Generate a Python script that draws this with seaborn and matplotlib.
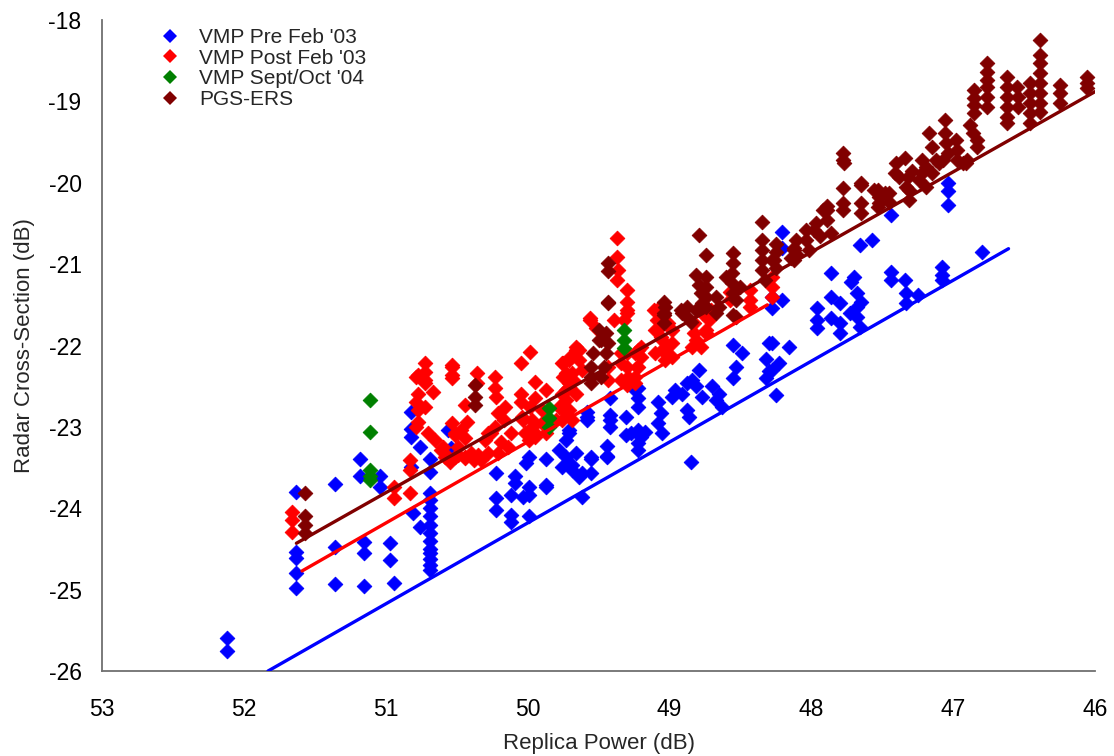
import numpy as np
import pandas as pd
import matplotlib
matplotlib.use("Agg")
import matplotlib.pyplot as plt
from matplotlib.lines import Line2D
import seaborn as sns

# series names and colours
SERIES = ["VMP Pre Feb '03", "VMP Post Feb '03", "VMP Sept/Oct '04", "PGS-ERS"]
COLORS = ["#0000ff", "#ff0000", "#008000", "#800000"]

# each entry: (replica power, [radar cross-section values])
pre_cols = [
    (52.12, [-25.60, -25.75]),
    (51.63, [-23.80, -24.54, -24.61, -24.80, -24.98]),
    (51.36, [-23.70, -24.48, -24.93]),
    (51.18, [-23.40, -23.60]),
    (51.15, [-24.42, -24.55, -24.96]),
    (51.04, [-23.60, -23.74]),
    (50.97, [-24.43, -24.64]),
    (50.94, [-24.92]),
    (50.82, [-22.82, -23.02, -23.12, -23.49]),
    (50.81, [-24.06]),
    (50.76, [-23.25, -24.23]),
    (50.69, [-23.40, -23.55, -23.81, -23.90, -24.00, -24.10, -24.20, -24.30,
             -24.40, -24.50, -24.55, -24.62, -24.70, -24.76]),
    (50.56, [-23.04]),
    (50.54, [-23.26]),
    (50.22, [-23.57, -23.87, -24.02]),
    (50.12, [-23.84, -24.08, -24.17]),
    (50.09, [-23.60, -23.69]),
    (50.03, [-23.86]),
    (49.99, [-23.74, -23.84, -24.10, -23.37]),
    (50.01, [-23.44]),
    (49.87, [-23.40, -23.71, -23.74]),
    (49.78, [-23.28]),
    (49.76, [-23.49]),
    (49.73, [-23.16, -23.37]),
    (49.71, [-23.04, -23.08]),
    (49.69, [-23.47, -23.53]),
    (49.66, [-23.32]),
    (49.64, [-23.62]),
    (49.62, [-23.57, -23.86]),
    (49.58, [-22.82, -22.88, -22.92]),
    (49.55, [-23.37, -23.40, -23.57]),
    (49.44, [-23.24, -23.36, -23.37]),
    (49.42, [-22.65, -22.85, -22.92, -23.00]),
    (49.31, [-22.88, -23.10]),
    (49.27, [-23.08]),
    (49.24, [-22.55]),
    (49.22, [-22.52, -22.65, -22.75, -23.04, -23.20, -23.28]),
    (49.20, [-23.12]),
    (49.17, [-23.06]),
    (49.08, [-22.70, -22.95]),
    (49.06, [-22.83]),
    (49.05, [-23.08]),
    (48.98, [-22.63]),
    (48.96, [-22.55]),
    (48.91, [-22.59]),
    (48.88, [-22.46, -22.79]),
    (48.86, [-22.88]),
    (48.85, [-23.43]),
    (48.84, [-22.42]),
    (48.81, [-22.50]),
    (48.79, [-22.30]),
    (48.77, [-22.63]),
    (48.70, [-22.50]),
    (48.67, [-22.67]),
    (48.65, [-22.59]),
    (48.63, [-22.76]),
    (48.55, [-21.99, -22.40]),
    (48.53, [-22.26]),
    (48.49, [-22.09]),
    (48.32, [-22.17, -22.40]),
    (48.30, [-21.97, -22.31]),
    (48.28, [-21.40, -21.54, -21.97, -22.30]),
    (48.25, [-22.61]),
    (48.23, [-22.22]),
    (48.21, [-20.60, -20.80, -21.44]),
    (48.16, [-22.02]),
    (47.96, [-21.54, -21.69, -21.79]),
    (47.86, [-21.11, -21.40, -21.66]),
    (47.80, [-21.48, -21.72, -21.85]),
    (47.73, [-21.60]),
    (47.72, [-21.22]),
    (47.70, [-21.16]),
    (47.68, [-21.36, -21.53, -21.65]),
    (47.66, [-20.77, -21.77]),
    (47.65, [-21.47]),
    (47.57, [-20.70]),
    (47.44, [-20.40, -21.10, -21.20]),
    (47.34, [-21.20]),
    (47.33, [-21.36, -21.48]),
    (47.25, [-21.38]),
    (47.08, [-21.03, -21.13, -21.20]),
    (47.04, [-20.00, -20.10, -20.27]),
    (46.80, [-20.85]),
]

post_cols = [
    (51.66, [-24.05, -24.14, -24.29]),
    (50.94, [-23.74, -23.87]),
    (50.83, [-23.41, -23.53, -23.81]),
    (50.79, [-22.39, -22.69, -23.00]),
    (50.77, [-22.36, -22.60, -22.79, -22.94]),
    (50.72, [-22.22, -22.33, -22.42, -22.46, -22.75]),
    (50.70, [-23.08]),
    (50.67, [-22.57]),
    (50.65, [-23.16]),
    (50.61, [-23.28]),
    (50.60, [-23.25]),
    (50.58, [-23.37]),
    (50.56, [-23.37]),
    (50.55, [-23.43]),
    (50.53, [-22.24, -22.26, -22.36, -22.40, -22.95]),
    (50.51, [-23.08, -23.10, -23.37]),
    (50.49, [-23.25, -23.35]),
    (50.47, [-23.04]),
    (50.44, [-22.73, -23.14, -23.37, -23.38]),
    (50.43, [-22.94]),
    (50.40, [-23.32]),
    (50.38, [-23.41]),
    (50.36, [-22.34, -22.46]),
    (50.35, [-23.35]),
    (50.33, [-23.41]),
    (50.30, [-23.16]),
    (50.28, [-23.08, -23.32]),
    (50.26, [-23.08]),
    (50.23, [-22.39, -22.52, -23.00]),
    (50.22, [-22.63]),
    (50.21, [-22.83, -23.32]),
    (50.19, [-23.18]),
    (50.17, [-22.91]),
    (50.16, [-22.75]),
    (50.14, [-23.25]),
    (50.12, [-23.08]),
    (50.05, [-22.22, -22.59, -22.70]),
    (50.04, [-22.88]),
    (50.03, [-22.91]),
    (50.02, [-23.08]),
    (49.99, [-23.16]),
    (49.98, [-22.08, -22.75]),
    (49.97, [-22.92, -23.00]),
    (49.95, [-22.45, -22.65, -23.08, -23.12]),
    (49.90, [-22.79, -22.95]),
    (49.87, [-22.55, -23.08]),
    (49.80, [-22.91]),
    (49.78, [-22.75]),
    (49.76, [-22.22, -22.59, -22.91]),
    (49.75, [-22.22, -22.39]),
    (49.73, [-22.34, -22.55, -22.67, -22.83]),
    (49.71, [-22.18, -22.46, -22.51, -22.79]),
    (49.70, [-22.14]),
    (49.69, [-22.34, -22.92]),
    (49.68, [-22.42]),
    (49.66, [-22.02, -22.06, -22.59]),
    (49.64, [-22.06, -22.18]),
    (49.62, [-22.30]),
    (49.56, [-21.66, -21.69]),
    (49.52, [-21.79]),
    (49.43, [-22.26, -22.42]),
    (49.39, [-21.69]),
    (49.37, [-20.68, -20.91, -21.20]),
    (49.36, [-21.07]),
    (49.34, [-22.09, -22.22, -22.42]),
    (49.32, [-21.69]),
    (49.30, [-21.32, -21.47, -21.56, -21.60, -22.09, -22.26, -22.48]),
    (49.29, [-22.39]),
    (49.24, [-22.09, -22.39, -22.46]),
    (49.23, [-22.26]),
    (49.22, [-22.06, -22.26]),
    (49.20, [-22.02, -22.14]),
    (49.11, [-21.56]),
    (49.10, [-21.81, -22.09]),
    (49.09, [-21.56, -21.69, -21.81]),
    (49.06, [-21.90]),
    (49.05, [-21.69, -21.93, -22.06]),
    (49.03, [-22.06, -22.18]),
    (49.01, [-21.72]),
    (48.98, [-21.81, -21.97, -22.14]),
    (48.84, [-22.02]),
    (48.83, [-21.72, -21.85]),
    (48.81, [-21.93]),
    (48.78, [-22.02]),
    (48.77, [-21.60]),
    (48.74, [-21.81, -21.85]),
    (48.72, [-21.69]),
    (48.71, [-21.56]),
    (48.57, [-21.34, -21.44]),
    (48.43, [-21.32, -21.44, -21.53]),
    (48.28, [-21.16, -21.28, -21.40]),
]

sept_cols = [
    (51.11, [-22.67, -23.06, -23.53, -23.60, -23.65]),
    (49.85, [-22.77, -22.89, -23.00]),
    (49.32, [-21.81, -21.93, -22.03]),
]

ers_cols = [
    (51.57, [-23.81, -24.10, -24.20, -24.30]),
    (50.37, [-22.49, -22.63, -22.73]),
    (49.55, [-22.26, -22.39, -22.46]),
    (49.54, [-22.09]),
    (49.50, [-21.81, -21.93]),
    (49.48, [-21.93, -22.39]),
    (49.46, [-22.26]),
    (49.45, [-21.85, -22.09]),
    (49.43, [-20.99, -21.09, -21.47, -21.48, -21.97]),
    (49.04, [-21.47, -21.60, -21.63, -21.72]),
    (49.03, [-21.53]),
    (48.92, [-21.56]),
    (48.91, [-21.60]),
    (48.88, [-21.53, -21.65]),
    (48.85, [-21.71]),
    (48.81, [-21.13, -21.56]),
    (48.79, [-20.64, -21.26]),
    (48.78, [-21.36]),
    (48.77, [-21.48]),
    (48.74, [-20.89, -21.16, -21.28, -21.40, -21.53]),
    (48.67, [-21.40, -21.60]),
    (48.65, [-21.53]),
    (48.60, [-21.16]),
    (48.56, [-21.11, -21.23]),
    (48.55, [-20.86, -20.99, -21.36, -21.63]),
    (48.53, [-21.44, -21.65]),
    (48.50, [-21.28]),
    (48.35, [-20.48, -20.70, -20.83, -20.95, -21.07]),
    (48.33, [-21.20]),
    (48.28, [-20.95]),
    (48.26, [-20.95]),
    (48.25, [-20.75, -20.85, -21.05]),
    (48.14, [-20.93]),
    (48.12, [-20.80, -20.83, -20.95]),
    (48.11, [-20.70, -20.87]),
    (48.04, [-20.58, -20.70]),
    (48.02, [-20.83]),
    (47.98, [-20.58]),
    (47.97, [-20.50]),
    (47.94, [-20.66]),
    (47.92, [-20.33]),
    (47.89, [-20.29, -20.33, -20.46]),
    (47.86, [-20.62]),
    (47.78, [-19.63, -19.72, -20.06, -20.25, -20.33]),
    (47.77, [-19.76]),
    (47.65, [-20.00, -20.03, -20.25, -20.37]),
    (47.56, [-20.09]),
    (47.53, [-20.09, -20.30]),
    (47.52, [-20.18, -20.25]),
    (47.48, [-20.13]),
    (47.45, [-20.13, -20.24]),
    (47.41, [-19.88]),
    (47.40, [-19.76]),
    (47.38, [-19.93]),
    (47.34, [-19.70]),
    (47.33, [-20.05]),
    (47.32, [-19.93]),
    (47.31, [-20.09, -20.21]),
    (47.29, [-19.85]),
    (47.24, [-19.97]),
    (47.22, [-19.72, -19.88]),
    (47.19, [-19.80, -20.05]),
    (47.17, [-19.39]),
    (47.15, [-19.56, -19.88]),
    (47.12, [-19.72]),
    (47.10, [-19.76]),
    (47.07, [-19.72]),
    (47.06, [-19.23, -19.39]),
    (47.05, [-19.51]),
    (47.04, [-19.63]),
    (46.98, [-19.47]),
    (46.97, [-19.60, -19.72]),
    (46.93, [-19.76]),
    (46.91, [-19.76]),
    (46.90, [-19.72]),
    (46.88, [-19.29]),
    (46.86, [-19.39]),
    (46.85, [-18.86, -18.96, -19.05, -19.14]),
    (46.83, [-19.47, -19.56]),
    (46.76, [-18.53, -18.64, -18.74, -18.82, -18.94, -19.07]),
    (46.62, [-18.70, -18.82, -18.94, -19.07, -19.19, -19.27]),
    (46.55, [-18.82]),
    (46.54, [-18.94, -19.07]),
    (46.46, [-18.77, -18.90, -19.02, -19.14, -19.27]),
    (46.39, [-18.25, -18.43, -18.53, -18.65, -18.77, -18.90, -19.02, -19.13]),
    (46.25, [-18.80, -18.90, -19.02]),
    (46.06, [-18.70, -18.77, -18.84]),
]

# linear trend lines (end points)
pre_fit_x = [51.83, 46.61]
pre_fit_y = [-26.00, -20.81]
post_fit_x = [51.59, 48.31]
post_fit_y = [-24.77, -21.50]
ers_fit_x = [51.63, 46.00]
ers_fit_y = [-24.43, -18.88]

x_ticks = [53, 52, 51, 50, 49, 48, 47, 46]
y_ticks = [-26, -25, -24, -23, -22, -21, -20, -19, -18]


def expand(cols, name):
    rows = []
    for xv, ys in cols:
        for yv in ys:
            rows.append({"power": xv, "rcs": yv, "series": name})
    return rows


rows = (expand(pre_cols, SERIES[0]) + expand(post_cols, SERIES[1])
        + expand(sept_cols, SERIES[2]) + expand(ers_cols, SERIES[3]))
df = pd.DataFrame(rows)

sns.set_style("white")
plt.rcParams["font.family"] = ["Liberation Sans", "DejaVu Sans"]

fig, ax = plt.subplots(figsize=(11.14, 7.56), dpi=100)
fig.subplots_adjust(left=0.0916, right=0.983, top=0.9735, bottom=0.1124)

palette = dict(zip(SERIES, COLORS))
# excel draws the series one after another
for name in SERIES:
    sns.scatterplot(data=df[df["series"] == name], x="power", y="rcs",
                    color=palette[name], edgecolor=palette[name], marker="D",
                    s=56, linewidth=0.6, ax=ax, legend=False, zorder=2)

fits = [(pre_fit_x, pre_fit_y, COLORS[0]), (post_fit_x, post_fit_y, COLORS[1]),
        (ers_fit_x, ers_fit_y, COLORS[3])]
for fx, fy, c in fits:
    sns.lineplot(x=fx, y=fy, color=c, linewidth=2.4, ax=ax, zorder=3)

ax.set_xlim(53, 46)
ax.set_ylim(-26, -18)
ax.set_xticks(x_ticks)
ax.set_yticks(y_ticks)
ax.set_xticklabels([str(t) for t in x_ticks])
ax.set_yticklabels([str(t) for t in y_ticks])

for side in ["top", "right"]:
    ax.spines[side].set_visible(False)
for side in ["left", "bottom"]:
    ax.spines[side].set_color("#707070")
    ax.spines[side].set_linewidth(1.3)
ax.tick_params(direction="inout", length=11.5, width=1.2, color="#707070",
               labelsize=16.5, labelcolor="black")
ax.tick_params(axis="x", pad=14)
ax.tick_params(axis="y", pad=9)

ax.set_xlabel("Replica Power (dB)", fontsize=16, labelpad=8)
ax.set_ylabel("Radar Cross-Section (dB)", fontsize=16, labelpad=10)

handles = [Line2D([], [], marker="D", linestyle="", color=c, markersize=7.5,
                  markeredgewidth=0) for c in COLORS]
ax.legend(handles, SERIES, loc="upper left", bbox_to_anchor=(0.045, 1.004),
          frameon=False, fontsize=15, labelspacing=0.08, handletextpad=0.8,
          handlelength=1.2, borderpad=0)

fig.savefig("out.png", dpi=100)
